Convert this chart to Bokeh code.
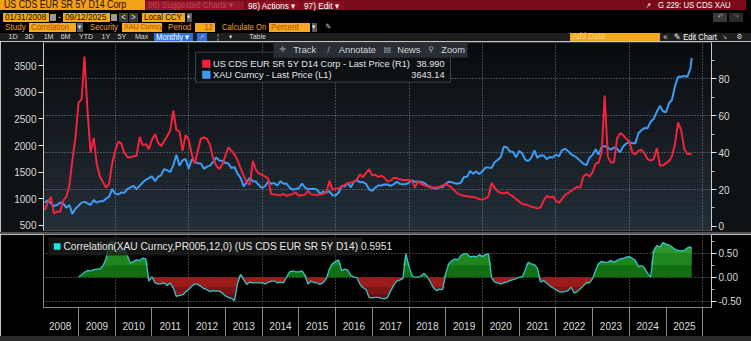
import numpy as np
import pandas as pd
from bokeh.plotting import figure
from bokeh.layouts import column
from bokeh.models import Range1d, LinearAxis, FixedTicker, Grid, Label, Spacer, NumeralTickFormatter, Div
from bokeh.core.properties import value
from bokeh.embed import file_html
from bokeh.resources import INLINE

FONT = "Liberation Sans"
SYM = "DejaVu Sans"

# ---------------- data ----------------
dates = [d.strftime("%Y-%m-%d") for d in pd.date_range("2008-01-31", "2025-08-31", freq="ME")] + ["2025-09-12"]

gold = [
    924, 972, 916, 865, 885, 930, 914, 834, 884, 718, 815, 869,
    928, 942, 916, 884, 979, 927, 955, 955, 1001, 1040, 1182, 1097,
    1081, 1116, 1113, 1180, 1213, 1244, 1181, 1248, 1307, 1357, 1386, 1421,
    1332, 1410, 1439, 1556, 1536, 1500, 1628, 1826, 1620, 1722, 1746, 1564,
    1740, 1697, 1669, 1664, 1562, 1604, 1622, 1692, 1773, 1719, 1713, 1675,
    1664, 1578, 1596, 1472, 1393, 1234, 1313, 1395, 1327, 1323, 1253, 1202,
    1240, 1326, 1284, 1296, 1250, 1327, 1282, 1287, 1208, 1171, 1183, 1199,
    1284, 1213, 1183, 1184, 1190, 1172, 1095, 1135, 1115, 1142, 1065, 1061,
    1118, 1238, 1233, 1293, 1215, 1322, 1351, 1309, 1316, 1277, 1173, 1151,
    1211, 1249, 1249, 1268, 1268, 1242, 1269, 1322, 1280, 1271, 1275, 1303,
    1345, 1318, 1325, 1315, 1299, 1253, 1224, 1201, 1192, 1215, 1222, 1282,
    1321, 1313, 1292, 1284, 1305, 1409, 1414, 1520, 1472, 1513, 1464, 1517,
    1589, 1585, 1577, 1687, 1730, 1781, 1975, 1968, 1886, 1879, 1777, 1898,
    1848, 1734, 1708, 1769, 1907, 1770, 1814, 1814, 1743, 1783, 1774, 1829,
    1796, 1909, 1937, 1897, 1837, 1807, 1766, 1711, 1661, 1633, 1769, 1824,
    1928, 1827, 1969, 1990, 1963, 1919, 1965, 1940, 1871, 1983, 2036, 2063,
    2040, 2044, 2230, 2286, 2327, 2326, 2447, 2503, 2635, 2744, 2643, 2625,
    2798, 2858, 3124, 3289, 3289, 3303, 3290, 3448, 3643.14,
]

cds = [
    9, 13, 16, 7, 8, 8, 14, 16, 22, 36, 48, 67,
    69, 92, 62, 40, 48, 34, 27, 24, 21, 23, 34, 41,
    46, 45, 40, 37.6, 37.4, 38, 38.3, 48.5, 44, 44.6, 41.9, 47,
    50, 45.5, 43.5, 46, 49, 51.9, 62.8, 52.2, 51.5, 41, 49.5, 47,
    39, 34, 41, 47.5, 48.2, 47.5, 44, 37, 33, 31, 33.5, 38.5,
    43, 41, 39, 36, 31.5, 27.5, 23.8, 22.6, 35.5, 30.5, 28.5, 28,
    27, 26, 17.5, 17.3, 17.1, 16.8, 17.6, 16.6, 17.2, 17.5, 18.4, 16.6,
    17, 17.1, 19.3, 17.5, 17.1, 17.1, 17.3, 17.5, 18.4, 24.7, 19.8, 20.5,
    20.6, 21.4, 22.5, 23.5, 23.8, 24, 25.5, 28.2, 26.7, 29, 31, 27.6,
    28, 26.8, 27.4, 26.5, 24.4, 24.8, 26.3, 26.2, 25.5, 25.2, 25.1, 25.1,
    24.5, 21, 24.5, 23, 22.3, 21.8, 21.1, 21.1, 21.1, 21.4, 22.2, 22.9,
    22, 21, 19.2, 17.8, 17.1, 16.6, 16.3, 16.1, 15.9, 15.5, 14.7, 14.4,
    15.2, 16.2, 23.5, 21, 19, 18.2, 17.9, 18.4, 17.3, 16.2, 14.8, 13.5,
    12.1, 11.9, 11.4, 10.7, 10.3, 9.7, 10.2, 13.9, 16.5, 15.6, 16.3, 14,
    12.8, 14.8, 16.9, 18, 19.3, 20.3, 21.5, 21.1, 27, 28.4, 27, 29.5,
    34, 34.5, 40, 70.9, 38, 34.7, 34.7, 47.5, 50.5, 49.5, 47.5, 46,
    40, 39, 41, 41.5, 39.5, 36.5, 35.6, 36.5, 42.5, 33, 33, 34.3,
    35.5, 38, 45, 56.4, 52, 42, 39.2, 39.3, 38.99,
]

corr_start = "2008-12-31"
corr = [
    0.01,
    0.05, 0.10, 0.14, 0.13, 0.16, 0.17, 0.17, 0.24, 0.38, 0.70, 0.75, 0.58,
    0.56, 0.60, 0.58, 0.45, 0.29, 0.33, 0.36, 0.35, 0.40, 0.38, -0.08, 0.01,
    -0.12, -0.14, -0.14, -0.12, -0.17, -0.12, -0.22, -0.40, -0.38, -0.37, -0.31, -0.25,
    -0.19, -0.14, -0.15, -0.19, -0.24, -0.26, -0.30, -0.28, -0.29, -0.29, -0.33, -0.39,
    -0.42, -0.44, -0.49, -0.14, 0.06, -0.05, -0.15, -0.10, -0.12, -0.12, -0.12, -0.12,
    -0.14, -0.11, -0.08, -0.08, -0.12, -0.10, -0.12, 0.00, 0.11, 0.13, 0.11, 0.11,
    0.13, 0.05, -0.14, -0.08, -0.11, -0.12, -0.15, -0.11, -0.03, 0.17, 0.28, 0.33,
    0.36, 0.14, 0.17, 0.15, 0.04, 0.00, -0.01, -0.15, -0.22, -0.26, -0.42, -0.43,
    -0.42, -0.42, -0.44, -0.45, -0.42, -0.29, -0.17, -0.08, -0.06, -0.03, 0.49, 0.22,
    0.03, 0.00, 0.00, 0.03, 0.08, 0.01, -0.10, -0.22, -0.28, -0.25, -0.26, 0.08,
    0.28, 0.34, 0.38, 0.36, 0.45, 0.49, 0.49, 0.42, 0.44, 0.42, 0.47, 0.43,
    0.47, 0.49, -0.01, -0.10, -0.12, -0.14, -0.12, -0.10, -0.07, -0.05, -0.03, 0.00,
    0.01, 0.14, 0.31, 0.28, 0.26, 0.19, -0.10, -0.07, -0.12, -0.18, -0.22, -0.26,
    -0.30, -0.31, -0.30, -0.28, -0.21, -0.33, -0.30, -0.24, -0.18, -0.11, -0.12, -0.03,
    0.15, 0.28, 0.33, 0.31, 0.31, 0.35, 0.31, 0.35, 0.38, 0.39, 0.42, 0.43,
    0.39, 0.35, 0.22, 0.24, 0.19, 0.08, 0.00, 0.56, 0.66, 0.63, 0.72, 0.69,
    0.67, 0.63, 0.58, 0.56, 0.55, 0.56, 0.61, 0.63, 0.5951,
]

years = list(range(2008, 2026))
year_labels = [str(y) for y in years]
left_ticks = [500, 1000, 1500, 2000, 2500, 3000, 3500]
right_ticks = [0, 20, 40, 60, 80]
right_minor = [10, 30, 50, 70, 90]
corr_ticks = [-0.5, 0.0, 0.5]
corr_minor = [-0.25, 0.25, 0.75]

cds_name = "US CDS EUR SR 5Y D14 Corp - Last Price (R1)"
gold_name = "XAU Curncy - Last Price (L1)"
corr_name = "Correlation(XAU Curncy,PR005,12,0) (US CDS EUR SR 5Y D14)"


def dec_year(s):
    d = pd.Timestamp(s)
    return d.year + d.dayofyear / (366 if d.is_leap_year else 365)


t = np.array([dec_year(s) for s in dates])
i0 = dates.index(corr_start)
tc = t[i0:]
c = np.array(corr)

# ---------------- geometry ----------------
W = 751
FL, FR = 43, 40
FW = W - FL - FR
xr = Range1d(2008.046, 2026.238)
yr_cds = Range1d(-2.22, 99.67)
yr_gold = Range1d(405.3, 3932.5)
yr_corr = Range1d(-0.631, 0.890)
MAIN_TOP_PX, MAIN_FH = 42, 188
LOW_TOP_PX, LOW_FH = 234, 73


def mx(px):
    return xr.start + (px - FL) * (xr.end - xr.start) / FW


def my(py):
    return yr_cds.end - (py - MAIN_TOP_PX) * (yr_cds.end - yr_cds.start) / MAIN_FH


def ly(py):
    return yr_corr.end - (py - LOW_TOP_PX) * (yr_corr.end - yr_corr.start) / LOW_FH


def txt(p, xs, ys, texts, color, size="9px", align="left", font=FONT, baseline="middle"):
    p.text(x=xs, y=ys, text=texts, text_font=value(font), text_font_size=size,
           text_color=color, text_align=align, text_baseline=baseline)


def style_axis(ax, size="10px"):
    ax.axis_line_color = "#c8c8c8"
    ax.major_tick_line_color = "#e6e6e6"
    ax.major_tick_out = 5
    ax.major_tick_in = 0
    ax.minor_tick_line_color = "#bdbdbd"
    ax.minor_tick_out = 3
    ax.minor_tick_in = 0
    ax.major_label_text_color = "#d9d9d9"
    ax.major_label_text_font = FONT
    ax.major_label_text_font_size = size
    ax.major_label_standoff = 2


# ---------------- header (terminal chrome) ----------------
ORG = "#f6a81e"
SX = 0.88


def el(l, tp, w, h, bg=None, color="#ffffff", text="", size=9.0, align="left", pad=2, font=FONT):
    st = (f"position:absolute;left:{l}px;top:{tp}px;width:{w}px;height:{h}px;line-height:{h}px;"
          f"font-size:{size}px;color:{color};text-align:{align};white-space:nowrap;overflow:visible;"
          f"font-family:'{font}',sans-serif;box-sizing:border-box;")
    if bg:
        st += f"background:{bg};"
    if align == "left":
        st += f"padding-left:{pad}px;"
    elif align == "right":
        st += f"padding-right:{pad}px;"
    inner = ""
    if text:
        inner = (f'<span style="display:inline-block;transform:scaleX({SX});'
                 f'transform-origin:{align} center;">{text}</span>')
    return f'<div style="{st}">{inner}</div>'


parts = [
    el(0, 0, 145, 10, "#f4a11a", "#1a0c00", "US CDS EUR SR 5Y D14 Corp", 10, pad=4),
    el(145, 0, 601, 10, "#7a0a19"),
    el(146, 0.5, 98, 9, "#94182a", "#c24152", "96) Suggested Charts &#9662;", 9.2),
    el(246, 0.5, 54, 9, "#86101f", "#ffffff", "98) Actions &#9662;", 9.4),
    el(302, 0.5, 42, 9, "#86101f", "#ffffff", "97) Edit &#9662;", 9.4),
    el(643, 0.5, 10, 9, None, "#ffffff", "&#8599;", 7.5, "center", font=SYM),
    el(656, 0, 92, 10, None, "#ffffff", "G 229: US CDS XAU", 8.8),
    el(3, 13, 46, 8.5, ORG, "#140a00", "01/31/2008", 9.4),
    el(50, 14, 5.5, 6.5, "#9a9a9a"),
    el(56, 13, 6, 8.5, None, "#e8e8e8", "-", 9, "center"),
    el(63, 13, 47, 8.5, ORG, "#140a00", "09/12/2025", 9.4),
    el(111, 14, 5.5, 6.5, "#9a9a9a"),
    el(118.5, 13, 9, 8.5, "#3c3c3c", "#e8e8e8", "&lt;", 8.5, "center"),
    el(129, 13, 9, 8.5, "#3c3c3c", "#e8e8e8", "&gt;", 8.5, "center"),
    el(142, 13, 43, 8.5, ORG, "#140a00", "Local CCY", 9),
    el(186.5, 13, 5.5, 8.5, "#5a5a5a", "#e8e8e8", "&#9662;", 6.5, "center"),
    el(713, 13, 14, 8.5, "#3a3a3a", "#9a9a9a", "&#8630;", 7.5, "center", font=SYM),
    el(729, 13, 14, 8.5, "#2a2a2a", "#6a6a6a", "&#8631;", 7.5, "center", font=SYM),
    el(5, 23, 23, 8.5, None, "#f0a23a", "Study", 9.2, pad=0),
    el(29, 23, 47, 8.5, ORG, "#a85400", "Correlation", 8.9),
    el(77, 23, 6, 8.5, "#5a5a5a", "#e8e8e8", "&#9662;", 6.5, "center"),
    el(90, 23, 31, 8.5, None, "#f0a23a", "Security", 8.8, pad=0),
    el(122, 23, 40, 8.5, ORG, "#a85400", "XAU Curncy", 8.0),
    el(168, 23, 26, 8.5, None, "#f0a23a", "Period", 9.2, pad=0),
    el(195, 23, 20, 8.5, ORG, "#a85400", "12", 9, "right"),
    el(222, 23, 46, 8.5, None, "#f0a23a", "Calculate On", 8.7, pad=0),
    el(269, 23, 41, 8.5, ORG, "#a85400", "Percent", 9.2),
    el(311.5, 23, 5.5, 8.5, "#5a5a5a", "#e8e8e8", "&#9662;", 6.5, "center"),
    el(323, 23, 10, 8.5, None, "#e8e8e8", "&#9998;", 7.5, "center", font=SYM),
    el(0, 32.5, W, 8.5, "#1e1e1e"),
]
for cx, lab in zip([13, 29.5, 48.5, 66, 85.5, 105.5, 122, 141.5, 256],
                   ["1D", "3D", "1M", "6M", "YTD", "1Y", "5Y", "Max", "Table"]):
    parts.append(el(cx - 8, 32.5, 16, 8.5, None, "#dcdcdc", lab, 8.0, "center"))
parts += [
    el(154, 33, 39, 8, "#2d6fe0", "#ffffff", "Monthly &#9662;", 8.8),
    el(197, 33, 10, 8, "#2d6fe0", "#dcdcdc", "&#8599;", 6.5, "center", font=SYM),
    el(214, 32.5, 8, 8.5, None, "#dcdcdc", "&#166;", 8, "center"),
    el(227, 32.5, 8, 8.5, None, "#dcdcdc", "&#9662;", 6.5, "center"),
    el(570, 33, 90, 7.5, ORG, "#ffd27a", "Add Data", 9),
    el(662, 32.5, 7, 8.5, None, "#dcdcdc", "&#171;", 9, "center"),
    el(674, 32.5, 45, 8.5, None, "#ffffff", "&#9998; Edit Chart", 8.6, pad=0),
    el(721.5, 32.5, 7, 8.5, None, "#dcdcdc", "&#8600;", 6.5, "center", font=SYM),
    el(735, 32.5, 8, 8.5, None, "#dcdcdc", "&#9881;", 7.5, "center", font=SYM),
]
hdr_html = ('<div style="position:relative;width:751px;height:41px;background:#000;overflow:hidden;">'
            + "".join(parts) + "</div>")
hdr = Div(text=hdr_html, width=W, height=41, margin=0)

# ---------------- main chart ----------------
main = figure(width=W, height=191, x_range=xr, y_range=yr_cds, output_backend="svg",
              toolbar_location=None, x_axis_location=None, y_axis_location=None,
              min_border_left=FL, min_border_right=FR, min_border_top=1, min_border_bottom=2,
              background_fill_color="#131920", border_fill_color="#0e1215", outline_line_color=None)
main.extra_y_ranges = {"gold": yr_gold}
main.grid.visible = False

nb = 36
edges = np.linspace(yr_cds.start, yr_cds.end, nb + 1)
bot_rgb = np.array([37, 48, 57])
top_rgb = np.array([8, 11, 14])
cols = ["#%02x%02x%02x" % tuple((bot_rgb + (top_rgb - bot_rgb) * f).astype(int)) for f in np.linspace(0, 1, nb)]
bg = main.quad(left=xr.start, right=xr.end, bottom=edges[:-1], top=edges[1:], fill_color=cols, line_color=None)
bg.level = "image"

main.add_layout(Grid(dimension=0, ticker=FixedTicker(ticks=list(range(2010, 2027, 2))),
                     grid_line_color="#78828c", grid_line_dash="1 2", grid_line_width=1))
main.add_layout(Grid(dimension=1, ticker=FixedTicker(ticks=[20, 40, 60, 80]),
                     grid_line_color="#78828c", grid_line_dash="1 2", grid_line_width=1))

main.line(t, gold, y_range_name="gold", line_color="#3d9cf2", line_width=2)
main.line(t, cds, line_color="#f3233d", line_width=2)

ax_l = LinearAxis(y_range_name="gold", ticker=FixedTicker(ticks=left_ticks))
style_axis(ax_l)
main.add_layout(ax_l, "left")
ax_r = LinearAxis(ticker=FixedTicker(ticks=right_ticks, minor_ticks=right_minor))
style_axis(ax_r)
main.add_layout(ax_r, "right")

# legend box + toolbar overlay
main.quad(left=mx(195), right=mx(450), top=my(51.7), bottom=my(81.7),
          fill_color="#0c1014", fill_alpha=0.92, line_color="#3a424a")
main.quad(left=[mx(201.7), mx(201.7)], right=[mx(210), mx(210)], top=[my(59.3), my(70.3)],
          bottom=[my(67.3), my(78.3)], fill_color=["#f3233d", "#3d9cf2"], line_color=None)
txt(main, [mx(212.5), mx(212.5)], [my(63.3), my(74.3)], [cds_name, gold_name], "#e6e6e6", "9.2px")
txt(main, [mx(444), mx(444)], [my(63.3), my(74.3)], [f"{cds[-1]:.3f}", f"{gold[-1]:.2f}"], "#e6e6e6", "9.2px", "right")

main.quad(left=mx(273), right=mx(467), top=my(40), bottom=my(57.3), fill_color="#2a3036", fill_alpha=0.95, line_color=None)
txt(main, [mx(282), mx(328), mx(387), mx(430.5)], [my(49.3)] * 4, ["\u271b", "\u2215", "\u25a4", "\u26b2"],
    "#a3abb3", "8px", "center", SYM)
txt(main, [mx(292.7), mx(338.3), mx(396.7), mx(440.7)], [my(49.3)] * 4, ["Track", "Annotate", "News", "Zoom"],
    "#d2d6da", "9.3px")

main.add_layout(Label(x=mx(3), y=gold[-1], y_range_name="gold", text=f"{gold[-1]:.2f}", text_font=FONT,
                      text_font_size="9.8px", text_color="#08203e", background_fill_color="#4aa5f7",
                      text_align="left", text_baseline="middle", padding=2))
main.add_layout(Label(x=mx(714), y=cds[-1], text=f"{cds[-1]:.3f}", text_font=FONT,
                      text_font_size="9.8px", text_color="#ffffff", background_fill_color="#f3233d",
                      text_align="left", text_baseline="middle", padding=2))

sep = Spacer(width=W, height=2, styles={"background-color": "#505458"})

# ---------------- lower panel ----------------
low = figure(width=W, height=102, x_range=xr, y_range=yr_corr, output_backend="svg",
             toolbar_location=None, x_axis_location=None, y_axis_location=None,
             min_border_left=FL, min_border_right=FR, min_border_top=0, min_border_bottom=29,
             background_fill_color="black", border_fill_color="black", outline_line_color="#8a8a8a")
low.grid.visible = False
low.add_layout(Grid(dimension=0, ticker=FixedTicker(ticks=list(range(2010, 2027, 2))),
                    grid_line_color="#7a7a7a", grid_line_dash="1 2", grid_line_width=1))
low.add_layout(Grid(dimension=1, ticker=FixedTicker(ticks=corr_ticks),
                    grid_line_color="#7a7a7a", grid_line_dash="1 2", grid_line_width=1))

low.varea(x=tc, y1=0, y2=np.maximum(c, 0), fill_color="#127012")
low.varea(x=tc, y1=0.25, y2=np.maximum(c, 0.25), fill_color="#1f861f")
low.varea(x=tc, y1=0.5, y2=np.maximum(c, 0.5), fill_color="#2f942f")
low.varea(x=tc, y1=0, y2=np.minimum(c, 0), fill_color="#9c1c1c")
low.varea(x=tc, y1=-0.2, y2=np.minimum(c, -0.2), fill_color="#7e1515")
low.varea(x=tc, y1=-0.35, y2=np.minimum(c, -0.35), fill_color="#641010")
low.line(tc, c, line_color="#31c6c8", line_width=1.3)

ax_c = LinearAxis(ticker=FixedTicker(ticks=corr_ticks, minor_ticks=corr_minor),
                  formatter=NumeralTickFormatter(format="0.00"))
style_axis(ax_c)
low.add_layout(ax_c, "right")

ax_x = LinearAxis(ticker=FixedTicker(ticks=[y + 0.5 for y in years], minor_ticks=list(range(2009, 2027))),
                  major_label_overrides={y + 0.5: lab for y, lab in zip(years, year_labels)})
ax_x.axis_line_color = "#8a8a8a"
ax_x.major_tick_line_color = None
ax_x.major_tick_out = 0
ax_x.major_tick_in = 0
ax_x.minor_tick_line_color = "#8a8a8a"
ax_x.minor_tick_out = 29
ax_x.minor_tick_in = 0
ax_x.major_label_text_color = "#dcdcdc"
ax_x.major_label_text_font = FONT
ax_x.major_label_text_font_size = "10px"
ax_x.major_label_standoff = -15
low.add_layout(ax_x, "below")

low.quad(left=mx(48), right=mx(362), top=ly(237), bottom=ly(255), fill_color="#1c1c1c", fill_alpha=0.8, line_color=None)
low.quad(left=mx(53.3), right=mx(60), top=ly(242.7), bottom=ly(249.3), fill_color="#22e3e6", line_color=None)
txt(low, [mx(63)], [ly(246.3)], [f"{corr_name} {corr[-1]:.4f}"], "#e6e6e6", "10.2px")

low.add_layout(Label(x=mx(714), y=corr[-1], text=f"{corr[-1]:.4f}", text_font=FONT,
                     text_font_size="10px", text_color="#0a3440", background_fill_color="#3fe4ec",
                     text_align="left", text_baseline="middle", padding=2))

strip = Spacer(width=W, height=5, styles={"background-color": "#2b2b2b"})

layout = column(hdr, main, sep, low, strip, spacing=0)
open("out.html", "w").write(file_html(layout, INLINE))
